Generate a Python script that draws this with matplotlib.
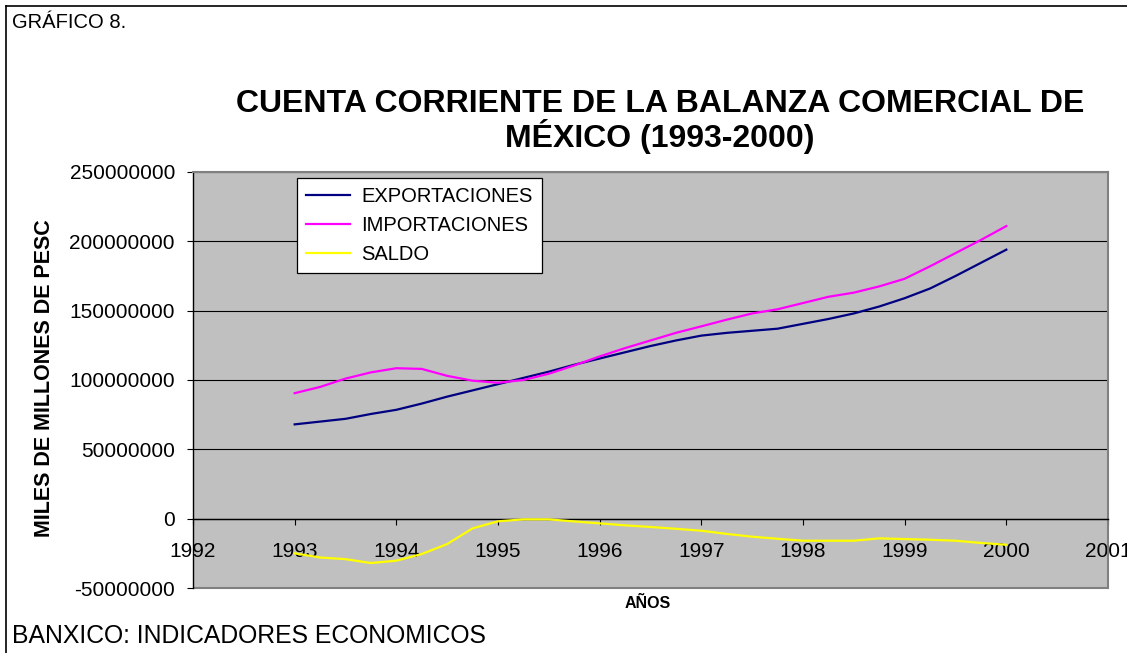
import matplotlib
matplotlib.use("Agg")
import matplotlib.pyplot as plt
from matplotlib.lines import Line2D
from matplotlib.patches import Rectangle
from matplotlib.ticker import FuncFormatter

plt.rcParams['font.family'] = ['Liberation Sans', 'DejaVu Sans']

# trimestres 1993 - 2000
anios = [1993 + 0.25 * i for i in range(29)]

exportaciones = [68.0, 70.0, 72.0, 75.5, 78.5, 83.0, 88.0, 92.5, 97.0,
                 101.5, 106.0, 111.0, 115.5, 120.0, 124.5, 128.5, 132.0,
                 134.0, 135.5, 137.0, 140.5, 144.0, 148.0, 153.0, 159.0,
                 166.0, 175.0, 184.5, 194.0]
importaciones = [90.5, 95.0, 101.0, 105.5, 108.5, 108.0, 103.0, 99.5, 98.0,
                 100.0, 104.5, 110.5, 117.0, 123.0, 128.5, 134.0, 138.7,
                 143.5, 148.0, 151.0, 155.5, 160.0, 163.0, 167.5, 173.0,
                 182.0, 191.5, 201.0, 211.0]
saldo = [-25.0, -28.0, -29.2, -32.0, -30.3, -25.5, -18.3, -7.0, -1.9,
         -0.5, -0.5, -2.0, -3.4, -4.8, -6.0, -7.3, -8.7, -11.0, -13.0,
         -14.5, -15.9, -15.9, -15.9, -14.2, -14.7, -15.2, -15.9, -17.5, -18.8]

# millones -> unidades del eje
exportaciones = [v * 1e6 for v in exportaciones]
importaciones = [v * 1e6 for v in importaciones]
saldo = [v * 1e6 for v in saldo]

W, H = 1127, 653
fig = plt.figure(figsize=(W / 100, H / 100), dpi=100)
ax = fig.add_axes([193 / W, 1 - 588 / H, (1108 - 193) / W, (588 - 172) / H])
ax.set_facecolor('#C0C0C0')

ax.plot(anios, exportaciones, color='#000080', lw=1.6, label='EXPORTACIONES', zorder=3)
ax.plot(anios, importaciones, color='#FF00FF', lw=1.6, label='IMPORTACIONES', zorder=3)
ax.plot(anios, saldo, color='#FFFF00', lw=1.6, label='SALDO', zorder=3)

ax.set_xlim(1992, 2001)
ax.set_ylim(-50e6, 250e6)
ax.set_xticks(range(1992, 2002))
ax.set_yticks(range(-50000000, 250000001, 50000000))
ax.yaxis.set_major_formatter(FuncFormatter(lambda v, p: f'{int(v)}'))

for y in range(0, 250000001, 50000000):
    ax.axhline(y, color='black', lw=0.8, zorder=1)

ax.spines['bottom'].set_position(('data', 0))
ax.spines['bottom'].set_linewidth(1.0)
ax.spines['left'].set_linewidth(1.0)
ax.spines['top'].set_color('#808080')
ax.spines['right'].set_color('#808080')
ax.spines['right'].set_linewidth(1.5)
ax.spines['top'].set_linewidth(1.5)
ax.add_patch(Rectangle((0, 0), 1, 0.0001, transform=ax.transAxes,
                       facecolor='none', edgecolor='#808080', lw=1.5,
                       clip_on=False, zorder=0.5))

ax.tick_params(axis='x', direction='out', length=4, width=0.8,
               pad=13, labelsize=15)
ax.tick_params(axis='y', direction='out', length=4, width=0.8,
               pad=9, labelsize=15)
for lbl in ax.get_xticklabels():
    lbl.set_clip_on(False)

leg = ax.legend(loc='upper left', bbox_to_anchor=(297 / W, 1 - 178 / H),
                bbox_transform=fig.transFigure, borderaxespad=0,
                fontsize=14.5, frameon=True, fancybox=False,
                edgecolor='black', framealpha=1, handlelength=2.2,
                handletextpad=0.55, labelspacing=0.5, borderpad=0.45)
leg.get_frame().set_linewidth(0.9)

fig.text(12 / W, 1 - 22 / H, 'GRÁFICO 8.', fontsize=14.5, va='center', ha='left')
fig.text(660 / W, 1 - 104 / H, 'CUENTA CORRIENTE DE LA BALANZA COMERCIAL DE',
         fontsize=23, fontweight='bold', ha='center', va='center')
fig.text(660 / W, 1 - 137 / H, 'MÉXICO (1993-2000)',
         fontsize=23, fontweight='bold', ha='center', va='center')
fig.text(45 / W, 1 - 378 / H, 'MILES DE MILLONES DE PESC', rotation=90,
         fontsize=15.5, fontweight='bold', ha='center', va='center')
fig.text(648 / W, 1 - 604 / H, 'AÑOS', fontsize=11.5, fontweight='bold',
         ha='center', va='center')
fig.text(12 / W, 1 - 636 / H, 'BANXICO: INDICADORES ECONOMICOS',
         fontsize=17.8, ha='left', va='center')

# marco exterior (izquierda y arriba)
fig.add_artist(Line2D([6 / W, 6 / W], [0, 1 - 6 / H], color='black', lw=1.2,
                      transform=fig.transFigure))
fig.add_artist(Line2D([6 / W, 1], [1 - 6 / H, 1 - 6 / H], color='black', lw=1.2,
                      transform=fig.transFigure))

fig.savefig('out.png', dpi=100)
